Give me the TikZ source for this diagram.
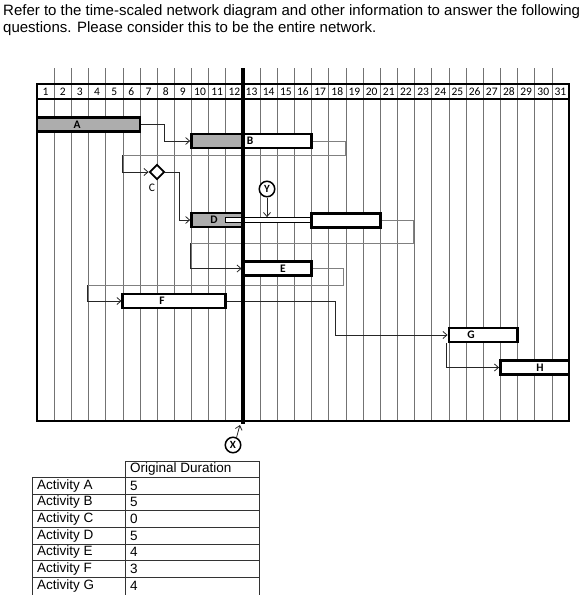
\documentclass[tikz,border=0pt]{standalone}
\usepackage{fontspec}
\setmainfont{Liberation Sans}
\newfontfamily\calfont{Carlito}
\usetikzlibrary{positioning, shapes.geometric, calc, arrows.meta}
\definecolor{barfill}{gray}{0.68}
\definecolor{gridgray}{gray}{0.45}
\newcommand{\daywidth}{17.161}

\begin{document}
\begin{tikzpicture}[x=1pt, y=-1pt, >={Straight Barb[length=4pt,width=7pt]}]
	\tikzstyle{bar}=[draw, fill=white, line width=2.6pt, inner sep=0pt, minimum height=14pt]
	\tikzstyle{donepart}=[path picture={\fill[barfill] (path picture bounding box.north west) rectangle ([xshift=#1]path picture bounding box.south west);}]
	\tikzstyle{barlab}=[inner sep=0pt, font=\calfont\bfseries\fontsize{11.5}{11.5}\selectfont]
	\tikzstyle{daynum}=[inner sep=0pt, font=\calfont\fontsize{11.5}{11.5}\selectfont]
	\tikzstyle{link}=[line width=0.8pt, black!85]
	\tikzstyle{floatline}=[line width=0.7pt, black!50]
	\tikzstyle{gridline}=[line width=0.6pt, gridgray]
	\tikzstyle{event}=[circle, draw, fill=white, line width=1.5pt, minimum size=15.5pt, inner sep=0pt, font=\calfont\bfseries\fontsize{11}{11}\selectfont]
	\tikzstyle{milestone}=[diamond, draw, fill=white, line width=1.9pt, minimum size=15pt, inner sep=0pt]
	\tikzstyle{intro}=[anchor=base west, inner sep=0pt, font=\fontsize{15}{17}\selectfont]
	\tikzstyle{tabtext}=[anchor=west, inner sep=0pt, font=\fontsize{13.5}{13.5}\selectfont]
	\tikzstyle{tabline}=[line width=0.9pt, black!80]

	\useasboundingbox (0,0) rectangle (581,600);

	\node[intro] (intro1) at (3,15) {Refer to the time-scaled network diagram and other information to answer the following};
	\node[intro] (intro2) at (3,32) {questions. Please consider this to be the entire network.};

	% grid and header
	\foreach \k in {1,...,30}
		\draw[gridline] ({37+\k*\daywidth},68) -- ({37+\k*\daywidth},421);
	\draw[line width=1.8pt] (37,84) -- (569,84);
	\draw[line width=1.4pt] (37,99) -- (569,99);
	\draw[line width=1.8pt] (37,84) rectangle (569,421);
	\foreach \n in {1,...,31}
		\node[daynum] (d\n) at ({37+(\n-0.5)*\daywidth},92) {\n};

	\coordinate (crittop) at (242.9,68);
	\coordinate (critbot) at (242.9,424);

	% connectors
	\coordinate (bturn) at (345,155);
	\coordinate (cturn) at (122,155);
	\coordinate (rturn) at (413,243);
	\coordinate (eturn) at (190,243);
	\coordinate (fturn) at (343,285);
	\coordinate (gturn) at (87,285);

	% bars
	\node[bar, fill=barfill, minimum width=102.97pt] (A) at (88.48,124.5) {};
	\node[bar, donepart=51.45pt, minimum width=120.13pt] (B) at (251.52,141) {};
	\node[bar, fill=barfill, minimum width=51.45pt] (D) at (217.18,220) {};
	\node[draw, fill=white, line width=0.8pt, minimum width=86pt, minimum height=5pt, inner sep=0pt] (Dslot) at (268,220) {};
	\node[bar, minimum width=68.64pt] (R) at (345.9,220.5) {};
	\node[bar, minimum width=68.64pt] (E) at (277.22,268.5) {};
	\node[bar, minimum width=102.97pt] (F) at (174.28,301) {};
	\node[bar, minimum width=68.64pt] (G) at (483.18,335) {};
	\node[bar, minimum width=68.64pt] (H) at (534.67,367.5) {};

	\node[milestone] (C) at (157,172) {};

	\draw[link,->] (A.east) -- ++(23,0) |- (B.west);
	\draw[floatline] (B.east) -| (bturn) -- (cturn);
	\draw[link,->] (cturn) |- (C.west);
	\draw[link,->] (C.east) -- ++(14,0) |- (D.west);
	\draw[floatline] (R.east) -| (rturn) -- (eturn);
	\draw[link,->] (eturn) |- (E.west);
	\draw[floatline] (E.east) -| (fturn) -- (gturn);
	\draw[link,->] (gturn) |- (F.west);
	\draw[link,->] (F.east) -- ++(108,0) |- (G.west);
	\draw[link,->] ([xshift=-1pt]G.south west) |- (H.west);

	\draw[line width=3.6pt] (crittop) -- (critbot);

	% labels
	\node[barlab] (Alab) at (77,124.5) {A};
	\node[barlab] (Blab) at (250,141) {B};
	\node[barlab] (Dlab) at (214,220) {D};
	\node[barlab] (Elab) at (283,268.5) {E};
	\node[barlab] (Flab) at (162,301) {F};
	\node[barlab] (Glab) at (471,335) {G};
	\node[barlab] (Hlab) at (540,367.5) {H};
	\node[barlab, font=\calfont\fontsize{11.5}{11.5}\selectfont] (Clab) at (152,188) {C};

	\node[event] (Y) at (267,189) {Y};
	\draw[link,->] (Y.south) -- (Y.south |- Dslot.north);
	\node[event] (X) at (233,445) {X};
	\draw[link,->] (X.65) -- ([xshift=-3pt,yshift=-1pt]critbot);

	% table
	\draw[tabline] (125,461) -- (259,461);
	\foreach \k in {0,...,6}
		\draw[tabline] (32,{477.3+\k*16.67}) -- (259,{477.3+\k*16.67});
	\draw[tabline] (32,477.3) -- (32,595) (125,461) -- (125,595) (259,461) -- (259,595);
	\node[tabtext] (durhead) at (130,469) {Original Duration};
	\foreach \a/\d [count=\i] in {A/5,B/5,C/0,D/5,E/4,F/3,G/4} {
		\node[tabtext] (act\a) at (37,{477.3+(\i-0.5)*16.67}) {Activity \a};
		\node[tabtext] (dur\a) at (130,{477.3+(\i-0.5)*16.67}) {\d};
	}
\end{tikzpicture}
\end{document}
